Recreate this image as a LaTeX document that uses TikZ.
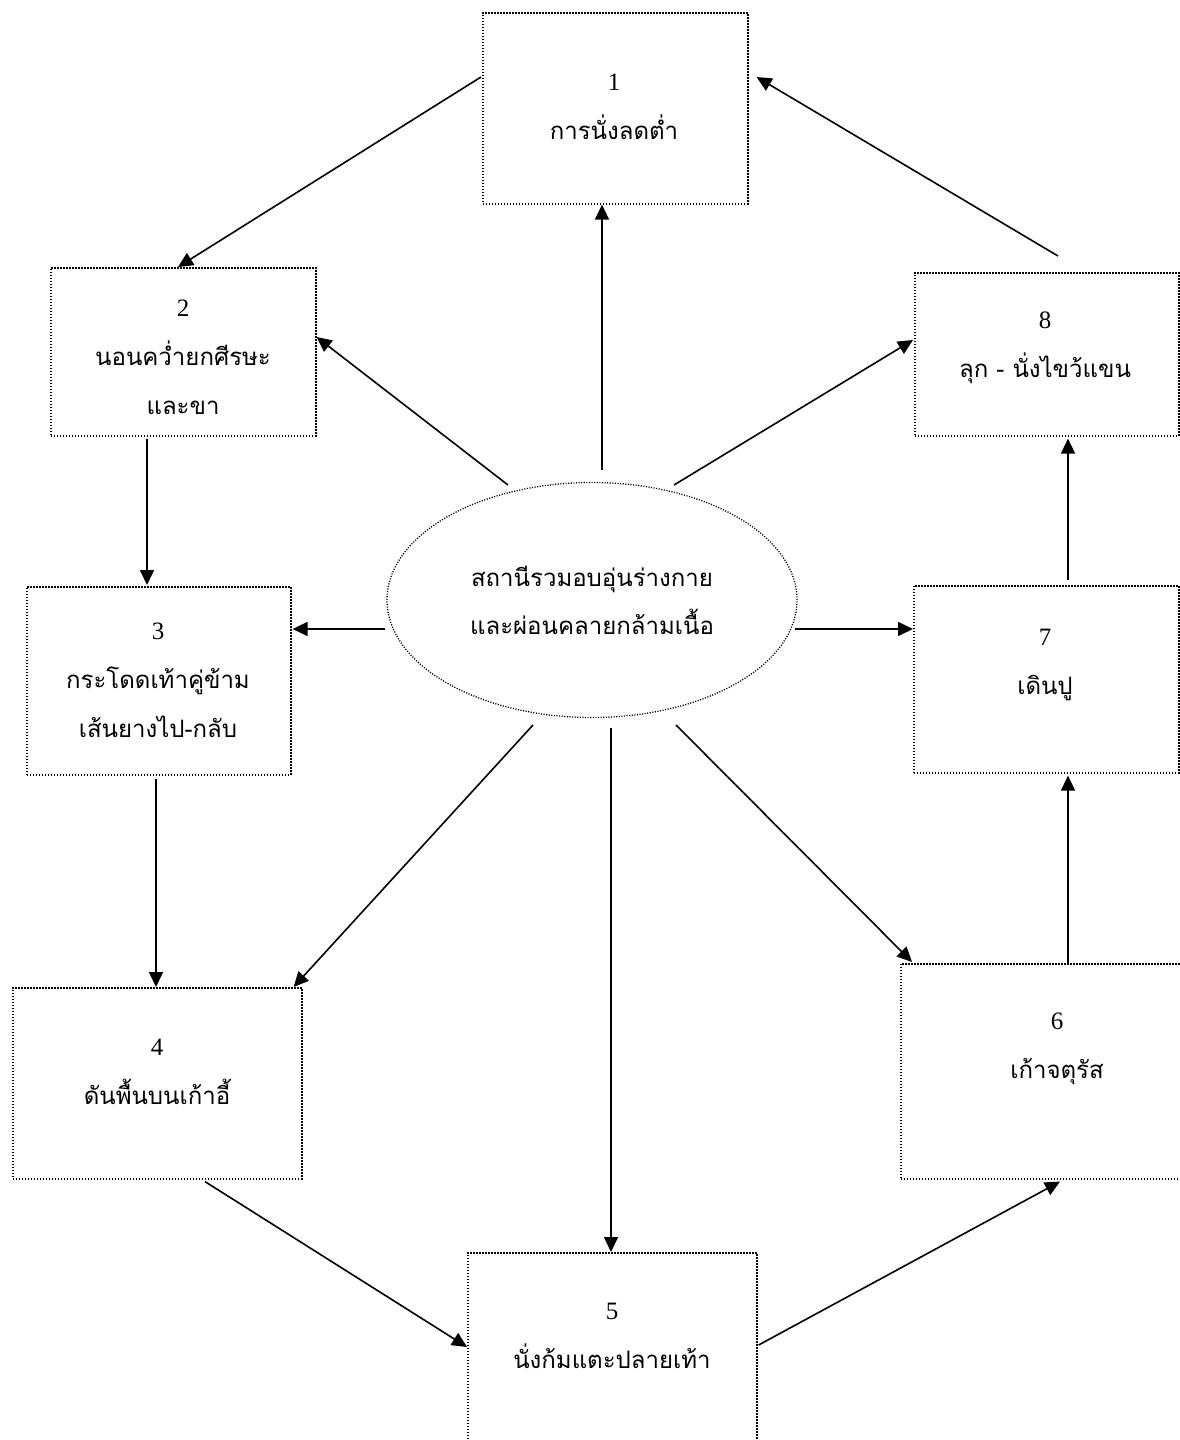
\documentclass[tikz,border=0pt]{standalone}
\usepackage{fontspec}
\setmainfont{Liberation Serif}
\newfontfamily\thaifont[Script=Thai]{Loma}
\usetikzlibrary{arrows.meta,shapes.geometric}
\begin{document}
\begin{tikzpicture}[x=1pt,y=-1pt,
  boxst/.style={draw, dash pattern=on 1.5pt off 1.5pt, line width=1.6pt, inner sep=0pt, anchor=north west},
  ellst/.style={draw, ellipse, dash pattern=on 1.1pt off 1.5pt, line width=1.3pt, inner sep=0pt, align=center, font=\fontsize{24}{48}\selectfont\thaifont},
  lbl/.style={align=center, inner sep=0pt, font=\fontsize{25}{49}\selectfont},
  th/.style={},
  arr/.style={-{Triangle[length=15pt,width=14pt]}, line width=1.6pt}]
\useasboundingbox (0,0) rectangle (1180,1440);
% boxes
\node[boxst, minimum width=265pt, minimum height=191pt] (b1) at (482,12) {};
\node[boxst, minimum width=265pt, minimum height=168pt] (b2) at (50,267) {};
\node[boxst, minimum width=264pt, minimum height=188pt] (b3) at (26,586) {};
\node[boxst, minimum width=289pt, minimum height=191pt] (b4) at (12,987) {};
\node[boxst, minimum width=289pt, minimum height=230pt] (b5) at (467,1252) {};
\node[boxst, minimum width=314pt, minimum height=215pt] (b6) at (900,963) {};
\node[boxst, minimum width=265pt, minimum height=187pt] (b7) at (913,585) {};
\node[boxst, minimum width=264pt, minimum height=163pt] (b8) at (914,272) {};
% texts
\node[lbl] (t1) at (614,107) {1\\{\fontsize{24}{49}\selectfont\thaifont การนั่งลดต่ำ}};
\node[lbl] (t2) at (183,357) {2\\{\fontsize{24}{49}\selectfont\thaifont นอนคว่ำยกศีรษะ}\\{\fontsize{24}{49}\selectfont\thaifont และขา}};
\node[lbl] (t3) at (158,680) {3\\{\fontsize{24}{49}\selectfont\thaifont กระโดดเท้าคู่ข้าม}\\{\fontsize{24}{49}\selectfont\thaifont เส้นยางไป-กลับ}};
\node[lbl] (t4) at (157,1072) {4\\{\fontsize{24}{49}\selectfont\thaifont ดันพื้นบนเก้าอี้}};
\node[lbl] (t5) at (612,1336) {5\\{\fontsize{24}{49}\selectfont\thaifont นั่งก้มแตะปลายเท้า}};
\node[lbl] (t6) at (1057,1049) {6\\{\fontsize{24}{49}\selectfont\thaifont เก้าจตุรัส}};
\node[lbl] (t7) at (1045,665) {7\\{\fontsize{24}{49}\selectfont\thaifont เดินปู}};
\node[lbl] (t8) at (1045,348) {8\\{\fontsize{24}{49}\selectfont\thaifont ลุก - นั่งไขว้แขน}};
% centre
\node[ellst, minimum width=410pt, minimum height=235pt] (c) at (592,600) {สถานีรวมอบอุ่นร่างกาย\\และผ่อนคลายกล้ามเนื้อ};
% connectors
\draw[arr] ([shift={(-1,65)}]b1.north west) -- ([shift={(128,0)}]b2.north west);
\draw[arr] ([shift={(144,-16)}]b8.north west) -- ([shift={(8,65)}]b1.north east);
\draw[arr] ([shift={(10,-130)}]c.center) -- ([shift={(120,0)}]b1.south west);
\draw[arr] ([shift={(-84,-115)}]c.center) -- ([shift={(0,70)}]b2.north east);
\draw[arr] ([shift={(82,-115)}]c.center) -- ([shift={(-1,68)}]b8.north west);
\draw[arr] ([shift={(97,2)}]b2.south west) -- ([shift={(121,-1)}]b3.north west);
\draw[arr] ([shift={(-207,29)}]c.center) -- ([shift={(1,43)}]b3.north east);
\draw[arr] ([shift={(203,29)}]c.center) -- ([shift={(0,44)}]b7.north west);
\draw[arr] ([shift={(130,3)}]b3.south west) -- ([shift={(144,0)}]b4.north west);
\draw[arr] ([shift={(-59,125)}]c.center) -- ([shift={(-9,0)}]b4.north east);
\draw[arr] ([shift={(19,128)}]c.center) -- ([shift={(144,0)}]b5.north west);
\draw[arr] ([shift={(84,125)}]c.center) -- ([shift={(12,-1)}]b6.north west);
\draw[arr] ([shift={(168,0)}]b6.north west) -- ([shift={(155,2)}]b7.south west);
\draw[arr] ([shift={(155,-5)}]b7.north west) -- ([shift={(154,2)}]b8.south west);
\draw[arr] ([shift={(193,2)}]b4.south west) -- ([shift={(0,95)}]b5.north west);
\draw[arr] ([shift={(1,93)}]b5.north east) -- ([shift={(160,2)}]b6.south west);
\end{tikzpicture}
\end{document}
